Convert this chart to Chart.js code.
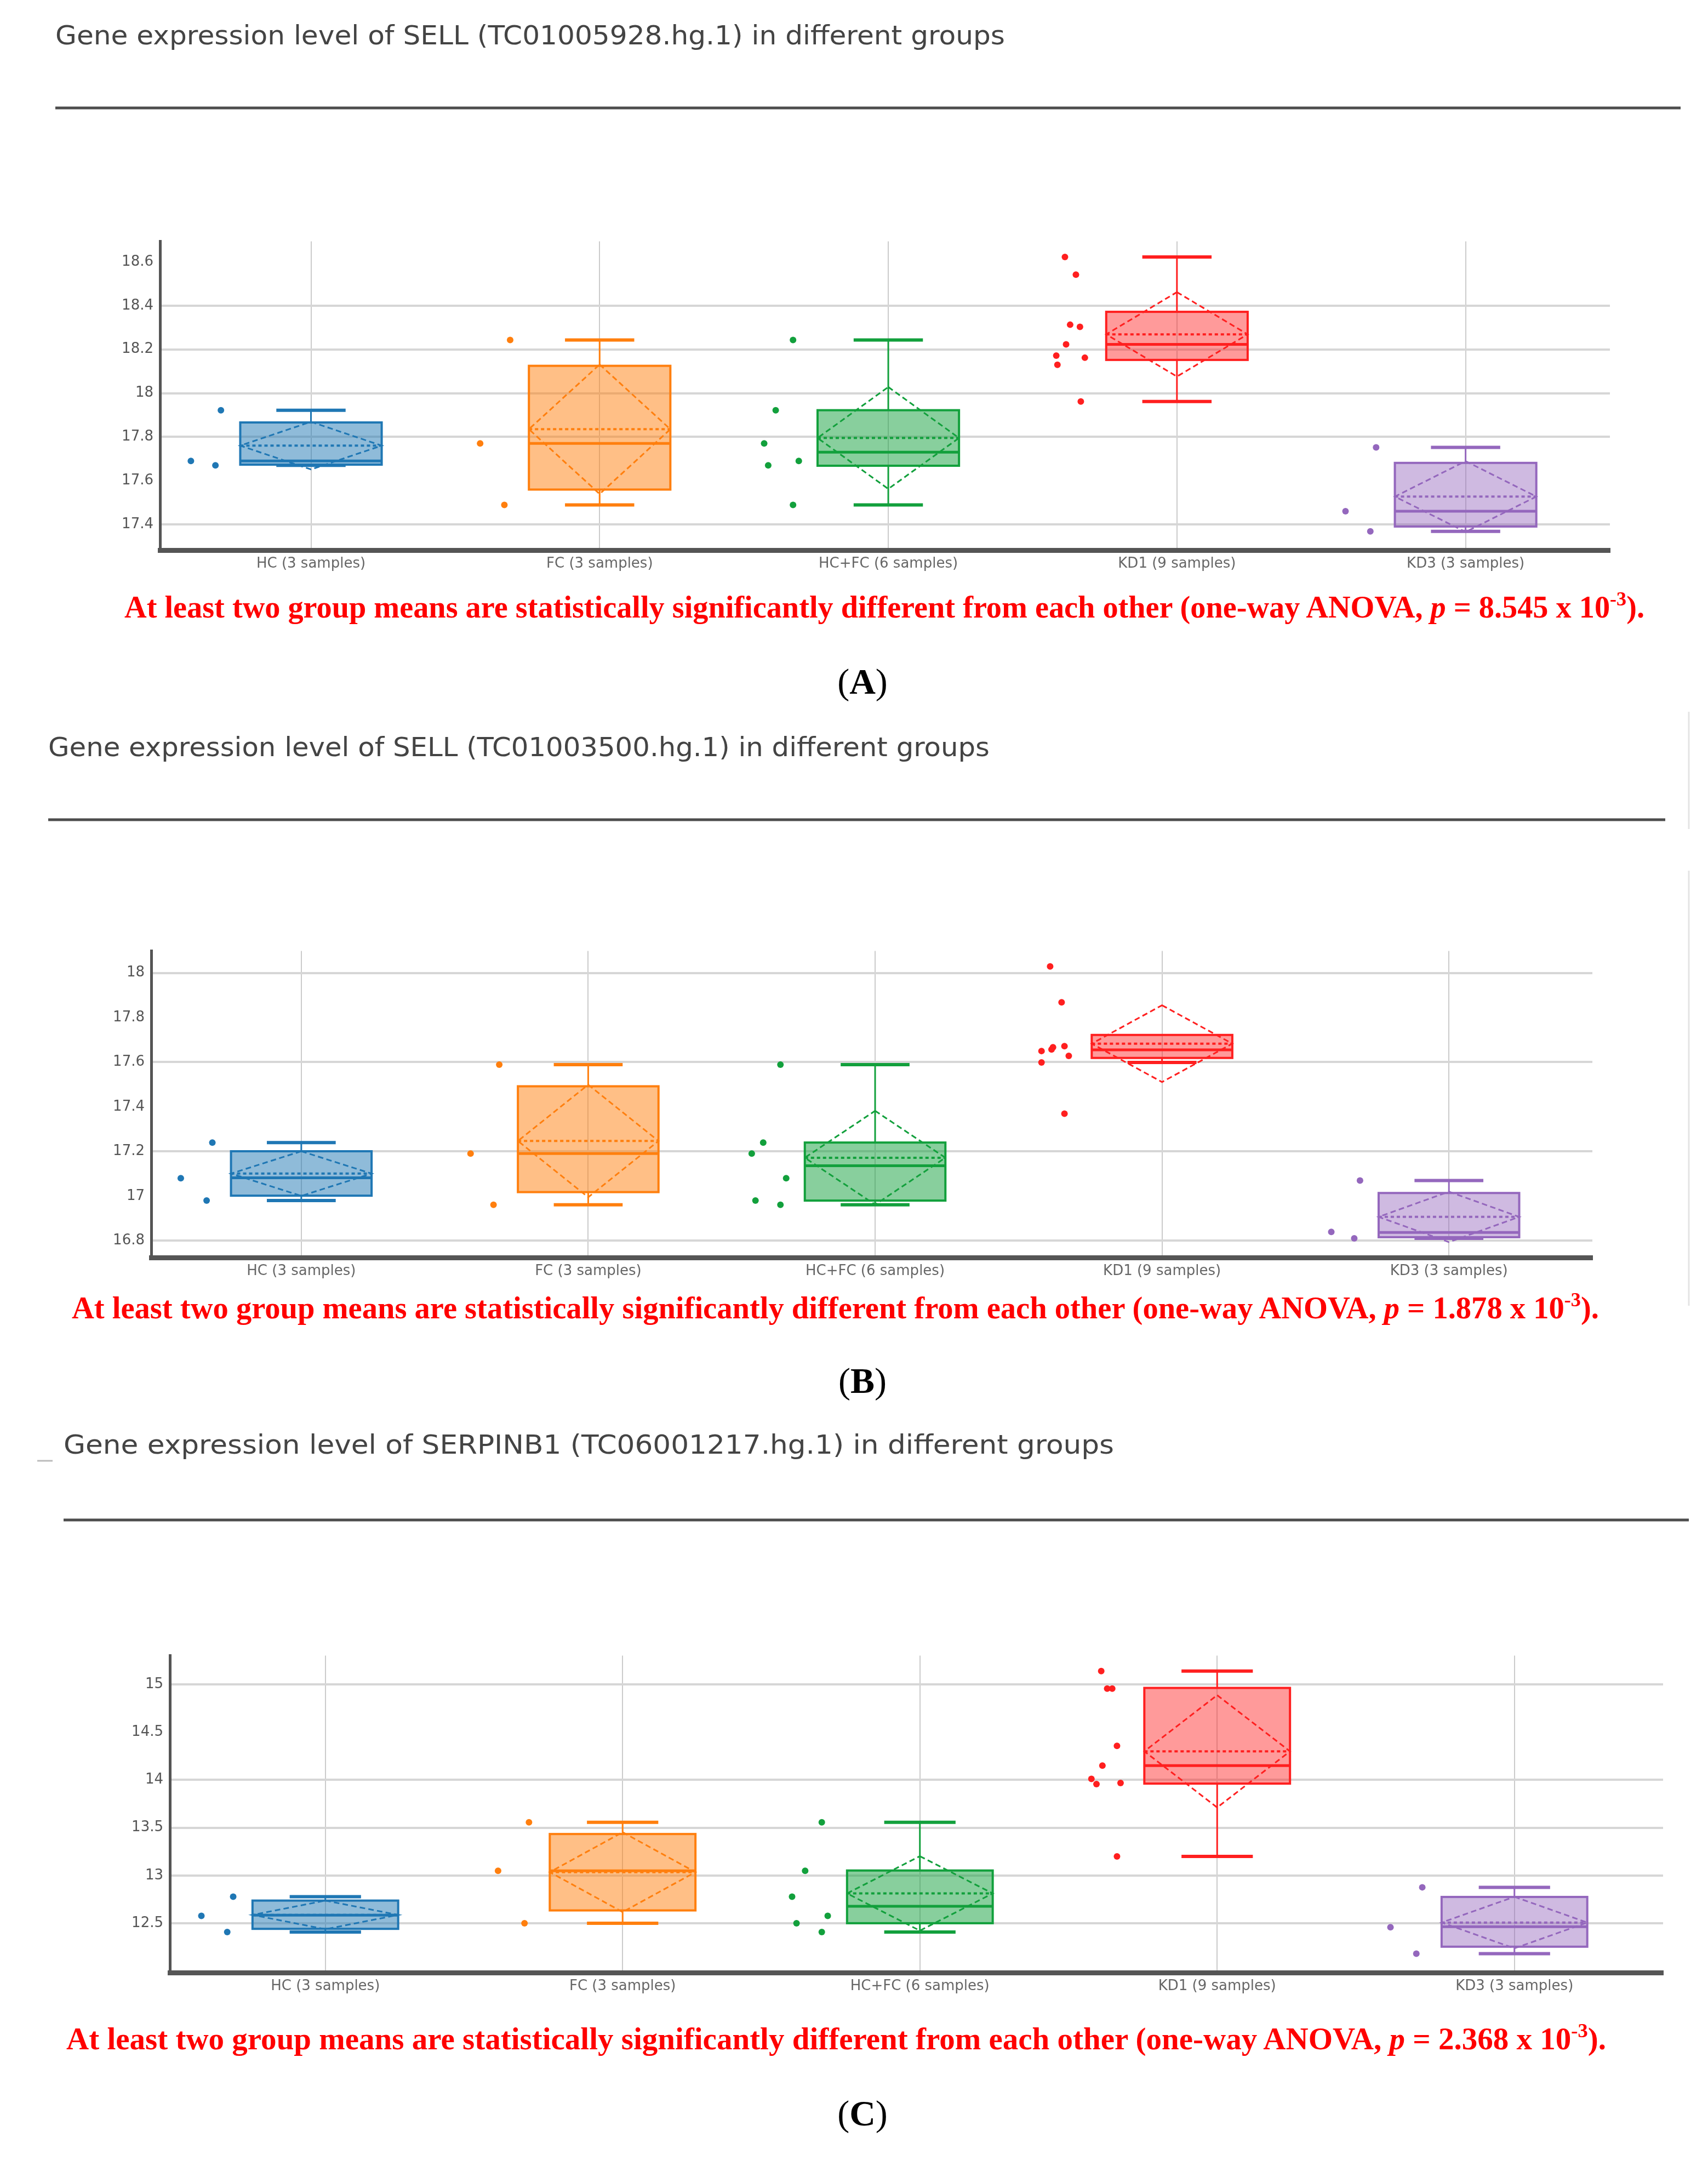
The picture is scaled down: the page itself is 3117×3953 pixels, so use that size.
<!DOCTYPE html>
<html>
<head>
<meta charset="utf-8">
<script src="https://cdn.jsdelivr.net/npm/chart.js@4.4.1/dist/chart.umd.min.js"></script>
<style>
  html, body { margin: 0; padding: 0; background: #fff; }
  #page { position: relative; width: 3117px; height: 3953px; overflow: hidden; background: #fff; }
  #page svg { position: absolute; left: 0; top: 0; }
  #page canvas { position: absolute; }
</style>
</head>
<body>
<div id="page">
<svg width="3117" height="3953" xmlns="http://www.w3.org/2000/svg">
  <!-- panel A -->
  <text x="101" y="81" font-family="DejaVu Sans" font-size="48" fill="#444" textLength="1733" lengthAdjust="spacingAndGlyphs">Gene expression level of SELL (TC01005928.hg.1) in different groups</text>
  <line x1="101" y1="197" x2="3067" y2="197" stroke="#4d4d4d" stroke-width="5"/>
  <text x="227" y="1127" font-family="Liberation Serif" font-weight="bold" font-size="56" fill="#ff0000" textLength="2774" lengthAdjust="spacingAndGlyphs">At least two group means are statistically significantly different from each other (one-way ANOVA, <tspan font-style="italic">p</tspan> = 8.545 x 10<tspan font-size="36" dy="-22">-3</tspan><tspan dy="22">).</tspan></text>
  <text x="1574" y="1266" text-anchor="middle" font-family="Liberation Serif" font-size="66" fill="#000">(<tspan font-weight="bold">A</tspan>)</text>

  <!-- panel B -->
  <text x="88" y="1380" font-family="DejaVu Sans" font-size="48" fill="#444" textLength="1718" lengthAdjust="spacingAndGlyphs">Gene expression level of SELL (TC01003500.hg.1) in different groups</text>
  <line x1="88" y1="1496" x2="3039" y2="1496" stroke="#4d4d4d" stroke-width="5"/>
  <line x1="3082" y1="1299" x2="3082" y2="1513" stroke="#e4e4e4" stroke-width="3"/>
  <line x1="3082" y1="1589" x2="3082" y2="2383" stroke="#e4e4e4" stroke-width="3"/>
  <text x="131" y="2406" font-family="Liberation Serif" font-weight="bold" font-size="56" fill="#ff0000" textLength="2787" lengthAdjust="spacingAndGlyphs">At least two group means are statistically significantly different from each other (one-way ANOVA, <tspan font-style="italic">p</tspan> = 1.878 x 10<tspan font-size="36" dy="-22">-3</tspan><tspan dy="22">).</tspan></text>
  <text x="1574" y="2542" text-anchor="middle" font-family="Liberation Serif" font-size="66" fill="#000">(<tspan font-weight="bold">B</tspan>)</text>

  <!-- panel C -->
  <line x1="68" y1="2666" x2="96" y2="2666" stroke="#bbb" stroke-width="3"/>
  <text x="116" y="2653" font-family="DejaVu Sans" font-size="48" fill="#444" textLength="1917" lengthAdjust="spacingAndGlyphs">Gene expression level of SERPINB1 (TC06001217.hg.1) in different groups</text>
  <line x1="116" y1="2774" x2="3082" y2="2774" stroke="#4d4d4d" stroke-width="5"/>
  <text x="121" y="3740" font-family="Liberation Serif" font-weight="bold" font-size="56" fill="#ff0000" textLength="2810" lengthAdjust="spacingAndGlyphs">At least two group means are statistically significantly different from each other (one-way ANOVA, <tspan font-style="italic">p</tspan> = 2.368 x 10<tspan font-size="36" dy="-22">-3</tspan><tspan dy="22">).</tspan></text>
  <text x="1574" y="3879" text-anchor="middle" font-family="Liberation Serif" font-size="66" fill="#000">(<tspan font-weight="bold">C</tspan>)</text>
</svg>
<canvas id="chartA" width="2900" height="700"></canvas>
<canvas id="chartB" width="2900" height="700"></canvas>
<canvas id="chartC" width="2900" height="700"></canvas>
</div>

<script>
// groups shared by all three panels
const groups = ['HC (3 samples)', 'FC (3 samples)', 'HC+FC (6 samples)', 'KD1 (9 samples)', 'KD3 (3 samples)'];
const lineColors = ['#1f77b4', '#ff7f0e', '#12a03c', '#ff1f1f', '#9467bd'];
const fillColors = ['rgba(31,119,180,0.5)', 'rgba(255,127,14,0.5)', 'rgba(18,160,60,0.5)', 'rgba(255,31,31,0.45)', 'rgba(148,103,189,0.45)'];

// (A) SELL TC01005928.hg.1
const ticksA = [17.4, 17.6, 17.8, 18, 18.2, 18.4, 18.6];
const gridA = [17.4, 17.8, 18, 18.2, 18.4];
const lowA = [17.67, 17.489, 17.489, 17.962, 17.368];
const q1A = [17.673, 17.559, 17.668, 18.152, 17.39];
const medA = [17.69, 17.77, 17.73, 18.223, 17.46];
const q3A = [17.866, 18.125, 17.922, 18.372, 17.681];
const highA = [17.922, 18.243, 18.243, 18.623, 17.752];
const meanA = [17.76, 17.835, 17.795, 18.269, 17.527];
const sdA = [0.109, 0.296, 0.233, 0.193, 0.162];
const pointsA = [
  [17.69, 17.67, 17.922],
  [18.243, 17.77, 17.489],
  [18.243, 17.922, 17.77, 17.69, 17.67, 17.489],
  [18.623, 18.542, 18.313, 18.303, 18.223, 18.172, 18.162, 18.13, 17.962],
  [17.752, 17.46, 17.368]
];
const jitterA = [
  [-0.416, -0.331, -0.312],
  [-0.31, -0.414, -0.33],
  [-0.33, -0.39, -0.43, -0.31, -0.416, -0.33],
  [-0.388, -0.35, -0.37, -0.336, -0.384, -0.418, -0.319, -0.414, -0.333],
  [-0.31, -0.416, -0.33]
];

// (B) SELL TC01003500.hg.1
const ticksB = [16.8, 17, 17.2, 17.4, 17.6, 17.8, 18];
const gridB = [16.8, 17.2, 17.6, 18];
const lowB = [16.98, 16.961, 16.961, 17.599, 16.811];
const q1B = [17.002, 17.018, 16.98, 17.619, 16.816];
const medB = [17.082, 17.191, 17.136, 17.655, 16.837];
const q3B = [17.201, 17.492, 17.24, 17.722, 17.014];
const highB = [17.24, 17.589, 17.589, 17.722, 17.07];
const meanB = [17.101, 17.247, 17.172, 17.683, 16.907];
const sdB = [0.1, 0.252, 0.21, 0.172, 0.113];
const pointsB = [
  [17.08, 17.24, 16.98],
  [17.589, 17.191, 16.961],
  [17.589, 17.24, 17.191, 17.08, 16.98, 16.961],
  [18.029, 17.868, 17.667, 17.672, 17.657, 17.65, 17.628, 17.599, 17.369],
  [17.07, 16.84, 16.811]
];
const jitterB = [
  [-0.42, -0.31, -0.33],
  [-0.31, -0.41, -0.33],
  [-0.33, -0.39, -0.43, -0.31, -0.417, -0.33],
  [-0.39, -0.35, -0.38, -0.34, -0.385, -0.42, -0.325, -0.42, -0.34],
  [-0.31, -0.41, -0.33]
];

// (C) SERPINB1 TC06001217.hg.1
const ticksC = [12.5, 13, 13.5, 14, 14.5, 15];
const gridC = [12.5, 13, 13.5, 14, 15];
const lowC = [12.408, 12.5, 12.408, 13.199, 12.181];
const q1C = [12.441, 12.634, 12.5, 13.962, 12.254];
const medC = [12.584, 13.049, 12.678, 14.151, 12.463];
const q3C = [12.737, 13.434, 13.052, 14.964, 12.775];
const highC = [12.778, 13.557, 13.557, 15.14, 12.876];
const meanC = [12.587, 13.035, 12.812, 14.3, 12.507];
const sdC = [0.15, 0.418, 0.39, 0.588, 0.27];
const pointsC = [
  [12.577, 12.778, 12.408],
  [13.557, 13.049, 12.5],
  [13.557, 13.049, 12.778, 12.577, 12.5, 12.408],
  [15.14, 14.957, 14.957, 14.357, 14.151, 14.012, 13.957, 13.968, 13.199],
  [12.876, 12.458, 12.181]
];
const jitterC = [
  [-0.417, -0.31, -0.33],
  [-0.315, -0.419, -0.33],
  [-0.33, -0.386, -0.43, -0.31, -0.415, -0.33],
  [-0.39, -0.37, -0.353, -0.337, -0.386, -0.423, -0.406, -0.325, -0.337],
  [-0.31, -0.417, -0.33]
];

const BOX_HALF = 0.245;
const CAP_HALF = 0.12;

// box, whiskers, median, mean line and mean +/- sd diamond
const boxPlugin = {
  id: 'boxes',
  beforeDatasetsDraw(chart, args, opts) {
    const ctx = chart.ctx;
    const x = chart.scales.x, y = chart.scales.y;
    const s = opts.stats;
    const py = v => y.getPixelForValue(v);
    const seg = (x1, y1, x2, y2) => { ctx.beginPath(); ctx.moveTo(x1, y1); ctx.lineTo(x2, y2); ctx.stroke(); };
    ctx.save();
    for (let i = 0; i < groups.length; i++) {
      const cx = x.getPixelForValue(i);
      const bl = x.getPixelForValue(i - BOX_HALF), br = x.getPixelForValue(i + BOX_HALF);
      const cl = x.getPixelForValue(i - CAP_HALF), cr = x.getPixelForValue(i + CAP_HALF);
      const top = py(s.q3[i]), bot = py(s.q1[i]);
      ctx.strokeStyle = lineColors[i];
      ctx.setLineDash([]);

      ctx.fillStyle = fillColors[i];
      ctx.fillRect(bl, top, br - bl, bot - top);
      ctx.lineWidth = 4;
      ctx.strokeRect(bl, top, br - bl, bot - top);

      ctx.lineWidth = 3;
      if (s.high[i] > s.q3[i]) seg(cx, top, cx, py(s.high[i]));
      if (s.low[i] < s.q1[i]) seg(cx, bot, cx, py(s.low[i]));
      ctx.lineWidth = 6;
      if (s.high[i] > s.q3[i]) seg(cl, py(s.high[i]), cr, py(s.high[i]));
      seg(cl, py(s.low[i]), cr, py(s.low[i]));

      ctx.lineWidth = 5;
      seg(bl, py(s.med[i]), br, py(s.med[i]));

      ctx.lineWidth = 4;
      ctx.setLineDash([6, 5]);
      seg(bl, py(s.mean[i]), br, py(s.mean[i]));

      ctx.lineWidth = 3;
      ctx.setLineDash([10, 6]);
      ctx.beginPath();
      ctx.moveTo(cx, py(s.mean[i] + s.sd[i]));
      ctx.lineTo(br, py(s.mean[i]));
      ctx.lineTo(cx, py(s.mean[i] - s.sd[i]));
      ctx.lineTo(bl, py(s.mean[i]));
      ctx.closePath();
      ctx.stroke();
    }
    ctx.restore();
  }
};

function makePanel(id, p) {
  const canvas = document.getElementById(id);
  const datasets = p.points.map((vals, i) => ({
    data: vals.map((v, k) => ({ x: i + p.jitter[i][k], y: v })),
    backgroundColor: lineColors[i],
    borderWidth: 0,
    pointRadius: 6
  }));

  const chart = new Chart(canvas, {
    type: 'scatter',
    data: { datasets },
    options: {
      responsive: false,
      maintainAspectRatio: false,
      animation: false,
      devicePixelRatio: 1,
      layout: { padding: 0 },
      plugins: {
        legend: { display: false },
        tooltip: { enabled: false },
        boxes: { stats: p.stats }
      },
      scales: {
        x: {
          type: 'linear',
          min: -0.523,
          max: 4.5,
          afterBuildTicks: s => { s.ticks = groups.map((g, i) => ({ value: i })); },
          afterFit: s => { s.height = 70; },
          ticks: {
            callback: v => groups[v],
            font: { family: 'DejaVu Sans', size: 26 },
            color: '#666',
            padding: 10,
            autoSkip: false,
            maxRotation: 0
          },
          grid: { color: '#cbcbcb', lineWidth: 2, drawTicks: false },
          border: { display: true, color: '#555', width: 9 }
        },
        y: {
          min: p.min,
          max: p.max,
          afterBuildTicks: s => { s.ticks = p.ticks.map(v => ({ value: v })); },
          afterFit: s => { s.width = 110; },
          ticks: {
            callback: v => String(v),
            font: { family: 'DejaVu Sans', size: 26 },
            color: '#555',
            padding: 12
          },
          grid: {
            color: c => (c.tick && p.grid.includes(c.tick.value)) ? '#d6d6d6' : 'rgba(0,0,0,0)',
            lineWidth: 4,
            drawTicks: false
          },
          border: { display: true, color: '#555', width: 5 }
        }
      }
    },
    plugins: [boxPlugin]
  });

  // move and resize the canvas so the plot area lands where the reference has it
  const b = p.area;
  for (let pass = 0; pass < 3; pass++) {
    const a = chart.chartArea;
    const mL = a.left, mT = a.top, mR = chart.width - a.right, mB = chart.height - a.bottom;
    canvas.style.left = (b.left - mL) + 'px';
    canvas.style.top = (b.top - mT) + 'px';
    chart.resize(Math.round(b.right - b.left + mL + mR), Math.round(b.bottom - b.top + mT + mB));
  }
  return chart;
}

makePanel('chartA', {
  ticks: ticksA, grid: gridA, min: 17.282, max: 18.694,
  points: pointsA, jitter: jitterA,
  stats: { low: lowA, q1: q1A, med: medA, q3: q3A, high: highA, mean: meanA, sd: sdA },
  area: { left: 292, right: 2938, top: 441, bottom: 1004 }
});

makePanel('chartB', {
  ticks: ticksB, grid: gridB, min: 16.725, max: 18.098,
  points: pointsB, jitter: jitterB,
  stats: { low: lowB, q1: q1B, med: medB, q3: q3B, high: highB, mean: meanB, sd: sdB },
  area: { left: 276, right: 2906, top: 1736, bottom: 2295 }
});

makePanel('chartC', {
  ticks: ticksC, grid: gridC, min: 11.983, max: 15.302,
  points: pointsC, jitter: jitterC,
  stats: { low: lowC, q1: q1C, med: medC, q3: q3C, high: highC, mean: meanC, sd: sdC },
  area: { left: 310, right: 3035, top: 3022, bottom: 3600 }
});
</script>
</body>
</html>
